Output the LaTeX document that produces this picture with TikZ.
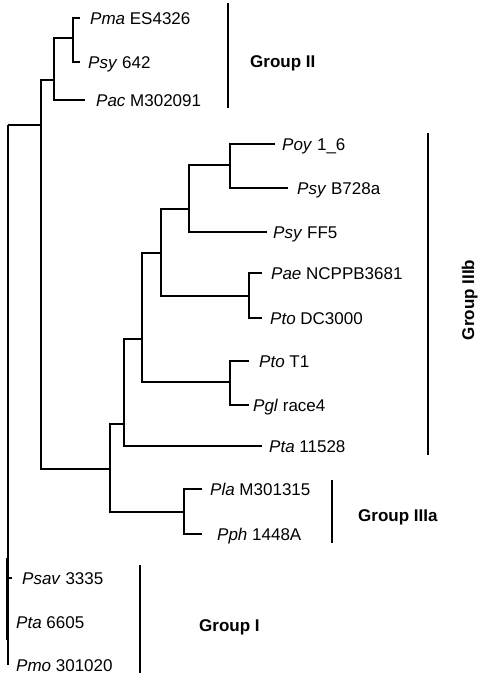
\documentclass[tikz,border=0pt]{standalone}
\usepackage{fontspec}
\setmainfont{Liberation Sans}
\begin{document}
\begin{tikzpicture}[x=1pt,y=-1pt,
  br/.style={line width=1.4pt},
  bar/.style={line width=1.4pt},
  leaf/.style={anchor=west, inner sep=0pt, text height=12.2pt, text depth=0pt, font=\fontsize{17}{20}\selectfont},
  grp/.style={inner sep=0pt, text height=12.2pt, text depth=0pt, font=\fontsize{17}{20}\selectfont\bfseries}]
\useasboundingbox (0,0) rectangle (477,680);

% leaf labels
\node[leaf] (pma)   at (90,18)   {\textit{Pma} ES4326};
\node[leaf] (psy6)  at (88,62)   {\textit{Psy} 642};
\node[leaf] (pac)   at (96,100)  {\textit{Pac} M302091};
\node[leaf] (poy)   at (282,144) {\textit{Poy} 1\_6};
\node[leaf] (psyb)  at (297,188) {\textit{Psy} B728a};
\node[leaf] (psyf)  at (273,232) {\textit{Psy} FF5};
\node[leaf] (pae)   at (271,273) {\textit{Pae} NCPPB3681};
\node[leaf] (ptodc) at (270,318) {\textit{Pto} DC3000};
\node[leaf] (ptot)  at (259,361) {\textit{Pto} T1};
\node[leaf] (pgl)   at (253,405) {\textit{Pgl} race4};
\node[leaf] (pta)   at (269,446) {\textit{Pta} 11528};
\node[leaf] (pla)   at (210,489) {\textit{Pla} M301315};
\node[leaf] (pph)   at (217,534) {\textit{Pph} 1448A};
\node[leaf] (psav)  at (22,578)  {\textit{Psav} 3335};
\node[leaf] (pta6)  at (16,622)  {\textit{Pta} 6605};
\node[leaf] (pmo)   at (16,665)  {\textit{Pmo} 301020};

% leaf tips
\coordinate (t-pma)   at (80,18);
\coordinate (t-psy6)  at (80,62);
\coordinate (t-pac)   at (85,100);
\coordinate (t-poy)   at (275,144);
\coordinate (t-psyb)  at (288,188);
\coordinate (t-psyf)  at (267,232);
\coordinate (t-pae)   at (262,273);
\coordinate (t-ptodc) at (262,318);
\coordinate (t-ptot)  at (249,361);
\coordinate (t-pgl)   at (249,405);
\coordinate (t-pta)   at (262,446);
\coordinate (t-pla)   at (202,489);
\coordinate (t-pph)   at (202,534);
\coordinate (t-psav)  at (12,578);

% internal nodes
\coordinate (R) at (8,125);
\coordinate (A) at (41,125);
\coordinate (B) at (54,80);
\coordinate (C) at (73,38);
\coordinate (D) at (110,469);
\coordinate (E) at (124,424);
\coordinate (F) at (142,339);
\coordinate (G) at (161,253);
\coordinate (H) at (189,209);
\coordinate (I) at (230,165);
\coordinate (J) at (249,296);
\coordinate (K) at (230,382);
\coordinate (L) at (184,512);
\coordinate (g1)  at (8,578);
\coordinate (g1e) at (8,665);
\coordinate (g1u) at (6.8,558);
\coordinate (g1d) at (6.8,640);

% branches
\draw[br] (R) -- (A);
\draw[br] (B) -| (A) |- (D);
\draw[br] (C) -| (B) |- (t-pac);
\draw[br] (t-pma) -| (C) |- (t-psy6);
\draw[br] (E) -| (D) |- (L);
\draw[br] (F) -| (E) |- (t-pta);
\draw[br] (G) -| (F) |- (K);
\draw[br] (H) -| (G) |- (J);
\draw[br] (I) -| (H) |- (t-psyf);
\draw[br] (t-poy) -| (I) |- (t-psyb);
\draw[br] (t-pae) -| (J) |- (t-ptodc);
\draw[br] (t-ptot) -| (K) |- (t-pgl);
\draw[br] (t-pla) -| (L) |- (t-pph);
\draw[br] (R) -- (g1e);
\draw[br] (g1) -- (t-psav);
\draw[br] (g1u) -- (g1d);

% group bars
\coordinate (b2t) at (228,3);   \coordinate (b2b) at (228,108);
\coordinate (b3t) at (428,133); \coordinate (b3b) at (428,455);
\coordinate (b4t) at (332,480); \coordinate (b4b) at (332,543);
\coordinate (b1t) at (140,565); \coordinate (b1b) at (140,673);
\draw[bar] (b2t) -- (b2b);
\draw[bar] (b3t) -- (b3b);
\draw[bar] (b4t) -- (b4b);
\draw[bar] (b1t) -- (b1b);

% group labels
\node[grp, anchor=west] (gII)   at (250,61)  {Group II};
\node[grp, rotate=90]   (gIIIb) at (468,300) {Group IIIb};
\node[grp, anchor=west] (gIIIa) at (358,515) {Group IIIa};
\node[grp, anchor=west] (gI)    at (199,625) {Group I};
\end{tikzpicture}
\end{document}
